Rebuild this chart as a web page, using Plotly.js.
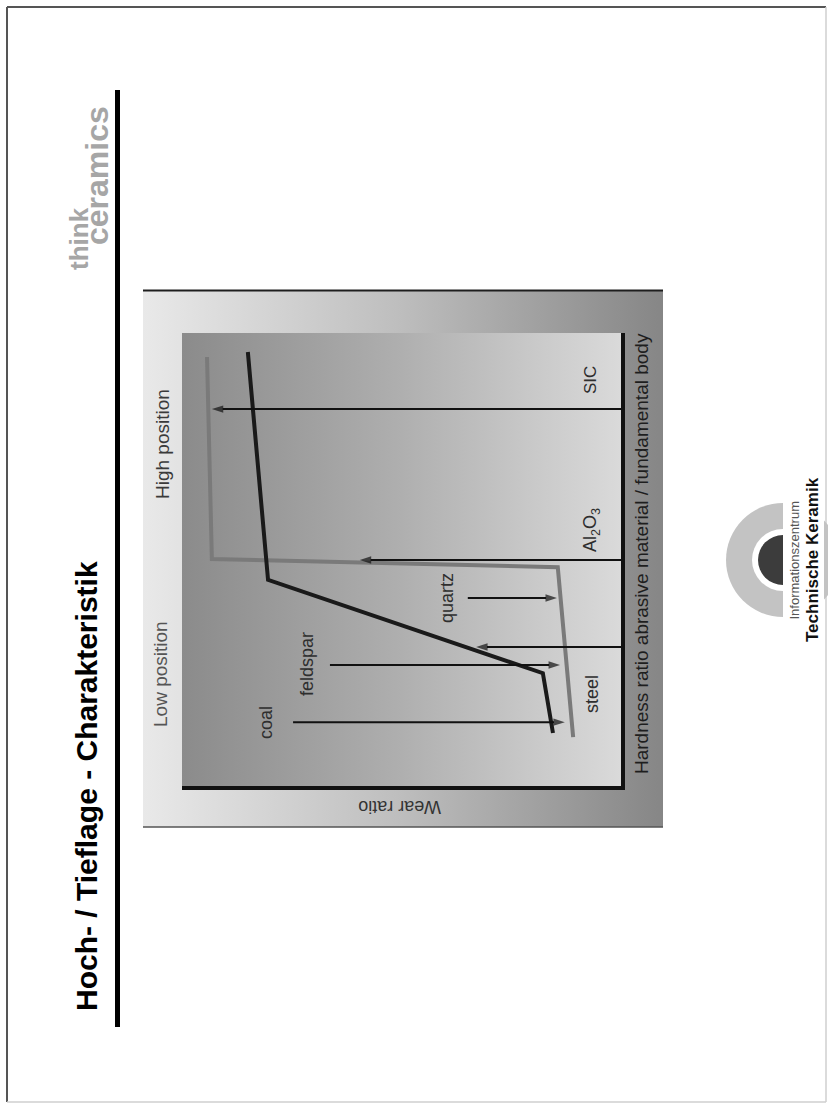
<!DOCTYPE html>
<html>
<head>
<meta charset="utf-8">
<script src="https://cdn.plot.ly/plotly-3.0.1.min.js"></script>
<style>html,body{margin:0;padding:0;background:#fff;}#chart{width:828px;height:1106px;}</style>
</head>
<body>
<div id="chart"></div>
<script>
// ---- Data (wear ratio vs. hardness ratio) ----
const curveGrayWear = [1.09, 1.44, 9.32, 9.43];
const curveGrayHardness = [1.08, 4.83, 5.01, 9.47];
const curveDarkWear = [1.55, 1.78, 8.04, 8.50];
const curveDarkHardness = [1.17, 2.49, 4.55, 9.58];

const arrowNames = ['SIC', 'Al<sub>2</sub>O<sub>3</sub>', 'steel', 'quartz', 'feldspar', 'coal'];
const arrowHardness = [8.32, 4.99, 3.07, 4.15, 2.67, 1.41];
const arrowTailWear = [0, 0, 0, 3.49, 6.63, 7.47];
const arrowHeadWear = [9.32, 5.95, 3.30, 1.46, 1.39, 1.28];

const regionLabels = ['High position', 'Low position'];
const xTitle = 'Hardness ratio abrasive material / fundamental body';
const yTitle = 'Wear ratio';
const slideTitle = 'Hoch- / Tieflage - Charakteristik';

// ---- label placement (page pixels) and sizes ----
const arrowLabelPos = [[590, 380], [591, 530], [592, 694], [447, 598], [307, 664], [266, 723]];
const arrowLabelSize = [17, 18, 18, 18, 18, 18];
const regionLabelPos = [[162, 444], [160, 674]];

const W = 828, H = 1106;
const sans = 'Liberation Sans, Arial, sans-serif';

const traces = [];
function pageLine(xs, ys, color, width) {
  traces.push({x: xs, y: ys, mode: 'lines', line: {color: color, width: width}, hoverinfo: 'skip', xaxis: 'x', yaxis: 'y'});
}
// outer chart frame with gradient
traces.push({x: [143, 663, 663, 143, 143], y: [290, 290, 827, 827, 290], mode: 'lines', fill: 'toself',
  line: {width: 0, color: 'rgba(0,0,0,0)'},
  fillgradient: {type: 'horizontal', colorscale: [[0, '#e9e9e9'], [0.5, '#bdbdbd'], [1, '#868686']]},
  hoverinfo: 'skip', xaxis: 'x', yaxis: 'y'});
// inner plot area with gradient
traces.push({x: [182, 621, 621, 182, 182], y: [333, 333, 786, 786, 333], mode: 'lines', fill: 'toself',
  line: {width: 0, color: 'rgba(0,0,0,0)'},
  fillgradient: {type: 'horizontal', colorscale: [[0, '#8b8b8b'], [0.5, '#afafaf'], [1, '#dadada']]},
  hoverinfo: 'skip', xaxis: 'x', yaxis: 'y'});
pageLine([143, 663], [290.5, 290.5], '#1e1e1e', 2);
pageLine([143, 663], [827, 827], '#555', 1.5);
// page border
pageLine([7, 7], [7, 1102], '#555', 2);
pageLine([7, 826], [7, 7], '#555', 2);
pageLine([826, 826], [7, 1102], '#cfcfcf', 1.5);
pageLine([7, 826], [1102, 1102], '#cfcfcf', 1.5);
// title rule
pageLine([117.5, 117.5], [90, 1027], '#000', 5);

// data curves
traces.push({x: curveGrayWear, y: curveGrayHardness, mode: 'lines', line: {color: '#7a7a7a', width: 4},
  hoverinfo: 'skip', xaxis: 'x2', yaxis: 'y2'});
traces.push({x: curveDarkWear, y: curveDarkHardness, mode: 'lines', line: {color: '#1a1a1a', width: 4},
  hoverinfo: 'skip', xaxis: 'x2', yaxis: 'y2'});

// arrows (line + arrow-head marker at the head point)
for (let i = 0; i < arrowNames.length; i++) {
  traces.push({x: [arrowTailWear[i], arrowHeadWear[i]], y: [arrowHardness[i], arrowHardness[i]],
    mode: 'lines+markers', line: {color: '#111', width: 2},
    marker: {symbol: 'arrow', angleref: 'previous', size: [0, 12], color: '#111', line: {width: 0}},
    cliponaxis: false, hoverinfo: 'skip', xaxis: 'x2', yaxis: 'y2'});
}

const annotations = [];
for (let i = 0; i < arrowNames.length; i++) {
  annotations.push({x: arrowLabelPos[i][0], y: arrowLabelPos[i][1], xref: 'x', yref: 'y', text: arrowNames[i],
    showarrow: false, textangle: -90, xanchor: 'center', yanchor: 'middle',
    font: {family: sans, size: arrowLabelSize[i], color: '#2e2e2e'}});
}
for (let i = 0; i < regionLabels.length; i++) {
  annotations.push({x: regionLabelPos[i][0], y: regionLabelPos[i][1], xref: 'x', yref: 'y', text: regionLabels[i],
    showarrow: false, textangle: -90, xanchor: 'center', yanchor: 'middle',
    font: {family: sans, size: 19, color: i === 0 ? '#3a3a3a' : '#555'}});
}
annotations.push({x: 400, y: 807, xref: 'x', yref: 'y', text: yTitle, showarrow: false, textangle: 180,
  xanchor: 'center', yanchor: 'middle', font: {family: sans, size: 18, color: '#333'}});
annotations.push({x: 641, y: 554, xref: 'x', yref: 'y', text: xTitle, showarrow: false, textangle: -90,
  xanchor: 'center', yanchor: 'middle', font: {family: sans, size: 19, color: '#1e1e1e'}});
// slide title & branding
annotations.push({x: 86.5, y: 786.5, xref: 'x', yref: 'y', text: '<b>' + slideTitle + '</b>', showarrow: false,
  textangle: -90, xanchor: 'center', yanchor: 'middle', font: {family: sans, size: 30, color: '#000'}});
annotations.push({x: 78.5, y: 238.5, xref: 'x', yref: 'y', text: '<b>think</b>', showarrow: false,
  textangle: -90, xanchor: 'center', yanchor: 'middle', font: {family: sans, size: 26, color: '#a6a6a6'}});
annotations.push({x: 97, y: 176, xref: 'x', yref: 'y', text: '<b>ceramics</b>', showarrow: false,
  textangle: -90, xanchor: 'center', yanchor: 'middle', font: {family: sans, size: 32, color: '#a6a6a6'}});
annotations.push({x: 793.5, y: 560, xref: 'x', yref: 'y', text: 'Informationszentrum', showarrow: false,
  textangle: -90, xanchor: 'center', yanchor: 'middle', font: {family: sans, size: 13, color: '#555'}});
annotations.push({x: 812, y: 560, xref: 'x', yref: 'y', text: '<b>Technische Keramik</b>', showarrow: false,
  textangle: -90, xanchor: 'center', yanchor: 'middle', font: {family: sans, size: 17, color: '#111'}});

const shapes = [
  {type: 'circle', xref: 'x', yref: 'y', x0: 726, x1: 840, y0: 503, y1: 617, fillcolor: '#c3c3c3', line: {width: 0}},
  {type: 'circle', xref: 'x', yref: 'y', x0: 752, x1: 814, y0: 529, y1: 591, fillcolor: '#ffffff', line: {width: 0}},
  {type: 'circle', xref: 'x', yref: 'y', x0: 758, x1: 808, y0: 535, y1: 585, fillcolor: '#3c3c3c', line: {width: 0}},
  {type: 'rect', xref: 'x', yref: 'y', x0: 783, x1: 824, y0: 498, y1: 622, fillcolor: '#ffffff', line: {width: 0}}
];

const layout = {
  width: W, height: H, margin: {l: 0, r: 0, t: 0, b: 0},
  paper_bgcolor: '#ffffff', plot_bgcolor: 'rgba(0,0,0,0)', showlegend: false,
  xaxis: {domain: [0, 1], range: [0, W], visible: false, fixedrange: true},
  yaxis: {domain: [0, 1], range: [H, 0], visible: false, fixedrange: true},
  xaxis2: {domain: [182 / W, 621 / W], range: [10, 0], anchor: 'y2', showline: true, linecolor: '#111', linewidth: 4,
    showgrid: false, zeroline: false, showticklabels: false, ticks: '', fixedrange: true},
  yaxis2: {domain: [1 - 786 / H, 1 - 333 / H], range: [0, 10], anchor: 'x2', side: 'right', showline: true,
    linecolor: '#111', linewidth: 4, showgrid: false, zeroline: false, showticklabels: false, ticks: '', fixedrange: true},
  annotations: annotations, shapes: shapes
};

Plotly.newPlot('chart', traces, layout, {displayModeBar: false, staticPlot: true});
</script>
</body>
</html>
